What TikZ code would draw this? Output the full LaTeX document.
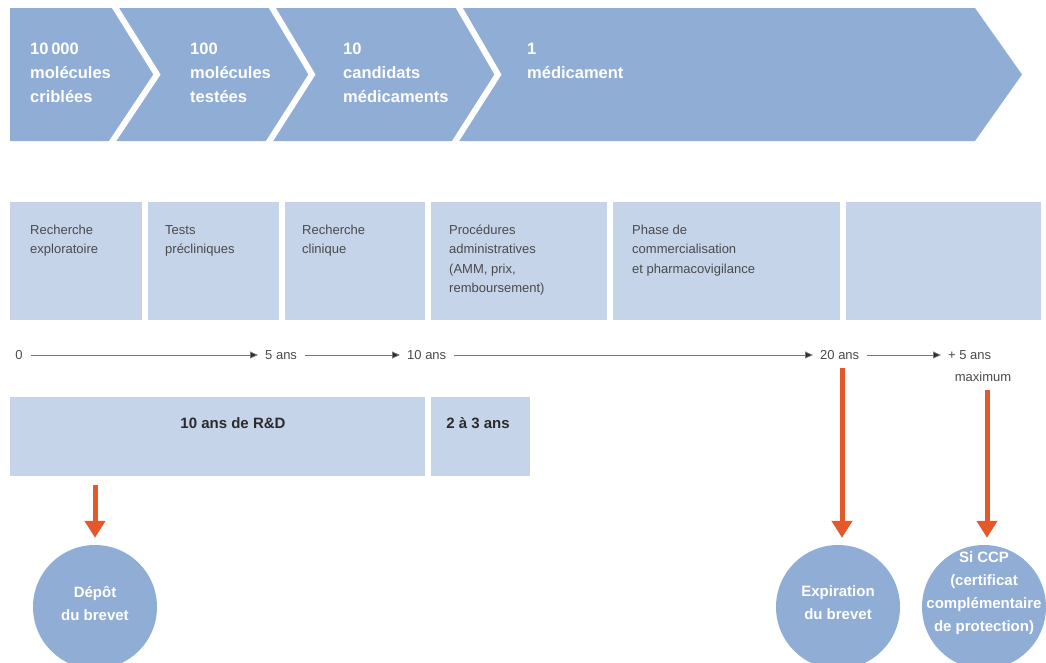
\documentclass[tikz,border=0pt]{standalone}
\usepackage{fontspec}
\setmainfont{Liberation Sans}
\usetikzlibrary{arrows.meta}

\definecolor{chevblue}{HTML}{8FADD5}
\definecolor{paleblue}{HTML}{C6D4E9}
\definecolor{arroworange}{HTML}{E5582A}
\definecolor{phasegray}{HTML}{4A4A4A}
\definecolor{darktext}{HTML}{2B2B2B}
\definecolor{linegray}{HTML}{777777}

\begin{document}
\begin{tikzpicture}[x=1pt, y=-1pt,
    chevtext/.style={anchor=base west, align=left, text=white, inner sep=0pt,
        font=\fontsize{16.5}{24}\selectfont\bfseries},
    phasetext/.style={anchor=base west, align=left, text=phasegray, inner sep=0pt,
        font=\fontsize{13}{19.5}\selectfont},
    spantext/.style={text=darktext, inner sep=0pt, font=\fontsize{15}{18}\selectfont\bfseries},
    yeartext/.style={text=phasegray, inner sep=0pt, font=\fontsize{13}{16}\selectfont},
    timearrow/.style={draw=linegray, line width=0.8pt, shorten <=8pt, shorten >=7pt,
        -{Triangle[width=7pt,length=8pt,fill=darktext]}},
    sep/.style={draw=white, line width=6pt, line join=miter},
    milestone/.style={circle, fill=chevblue, minimum size=124pt, inner sep=0pt},
    milestonetext/.style={align=center, text=white, inner sep=0pt,
        font=\fontsize{15}{23}\selectfont\bfseries},
    pointer/.style={draw=arroworange, line width=5pt, shorten >=7pt,
        -{Triangle[width=20pt,length=17pt]}}]
    \useasboundingbox (0,0) rectangle (1046,662);

    % Chevron band
    \fill[chevblue] (10,8) -- (975,8) -- (1022,74.5) -- (975,141) -- (10,141) -- cycle;
    \draw[sep] (113,4) -- (157,74.5) -- (110,145);
    \draw[sep] (270,4) -- (312,74.5) -- (267,145);
    \draw[sep] (457,4) -- (498,74.5) -- (453,145);

    % (base = last line)
    \node[chevtext] (screened) at (30,102) {10\,000\\molécules\\criblées};
    \node[chevtext] (tested) at (190,102) {100\\molécules\\testées};
    \node[chevtext] (candidates) at (343,102) {10\\candidats\\médicaments};
    \node[chevtext] (drug) at (527,78) {1\\médicament};

    % Phase boxes
    \fill[paleblue] (10,202) rectangle (142,320);
    \fill[paleblue] (148,202) rectangle (279,320);
    \fill[paleblue] (285,202) rectangle (425,320);
    \fill[paleblue] (431,202) rectangle (607,320);
    \fill[paleblue] (613,202) rectangle (840,320);
    \fill[paleblue] (846,202) rectangle (1041,320);

    \node[phasetext] (explo) at (30,253.5) {Recherche\\exploratoire};
    \node[phasetext] (preclin) at (165,253.5) {Tests\\précliniques};
    \node[phasetext] (clin) at (302,253.5) {Recherche\\clinique};
    \node[phasetext] (admin) at (449,292.5) {Procédures\\administratives\\(AMM, prix,\\remboursement)};
    \node[phasetext] (market) at (632,273) {Phase de\\commercialisation\\et pharmacovigilance};

    % Time line
    \node[yeartext] (t0) at (19,355) {0};
    \node[yeartext, anchor=west] (t5) at (265,355) {5 ans};
    \node[yeartext, anchor=west] (t10) at (407,355) {10 ans};
    \node[yeartext, anchor=west] (t20) at (820,355) {20 ans};
    \node[yeartext, anchor=west] (t25) at (948,355) {+ 5 ans};
    \node[yeartext] (tmax) at (983,377) {maximum};

    \draw[timearrow] (t0) -- (t5);
    \draw[timearrow] (t5) -- (t10);
    \draw[timearrow] (t10) -- (t20);
    \draw[timearrow] (t20) -- (t25);

    % Durations
    \fill[paleblue] (10,397) rectangle (425,476);
    \fill[paleblue] (431,397) rectangle (530,476);
    \node[spantext] (rnd) at (233,423) {10 ans de R\&D};
    \node[spantext] (admspan) at (478,423) {2 à 3 ans};

    % Patent milestones
    \node[milestone] (filing) at (95,607) {};
    \node[milestone] (expiry) at (838,607) {};
    \node[milestone] (ccp) at (984,607) {};
    \node[milestonetext] (filinglbl) at (95,603) {Dépôt\\du brevet};
    \node[milestonetext] (expirylbl) at (838,603) {Expiration\\du brevet};
    \node[milestonetext] (ccplbl) at (984,593) {Si CCP\\(certificat\\complémentaire\\de protection)};

    \coordinate (filingtop) at (95,485);
    \coordinate (expirytop) at (842,368);
    \coordinate (ccptop) at (987,390);

    \draw[pointer] (filingtop) -- (filingtop |- filing.north);
    \draw[pointer] (expirytop) -- (expirytop |- expiry.north);
    \draw[pointer] (ccptop) -- (ccptop |- ccp.north);
\end{tikzpicture}
\end{document}
